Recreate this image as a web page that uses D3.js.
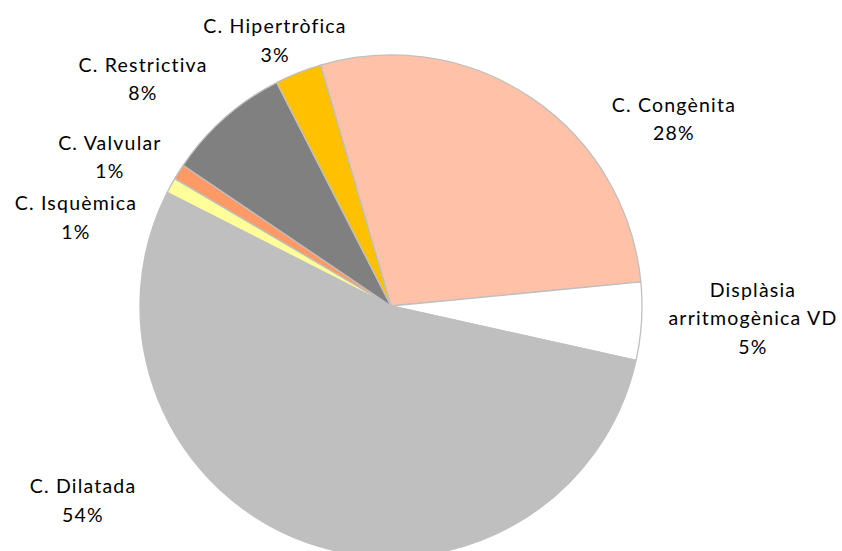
<!DOCTYPE html>
<html>
<head>
<meta charset="utf-8">
<script src="https://cdn.jsdelivr.net/npm/d3@7"></script>
<style>
  html, body { margin: 0; padding: 0; background: #ffffff; }
  svg { display: block; }
  .lbl { font-family: Lato, "Open Sans", sans-serif; font-size: 19.5px; fill: #000; letter-spacing: 1.2px; }
</style>
</head>
<body>
<svg id="chart" width="842" height="551"></svg>
<script>
// Categories of cardiomyopathy and their share of cases (%)
const categories = ["C. Congènita", "Displàsia arritmogènica VD", "C. Dilatada", "C. Isquèmica", "C. Valvular", "C. Restrictiva", "C. Hipertròfica"];
const values = [28, 5, 54, 1, 1, 8, 3];
// Label lines as printed beside each slice
const labelLines = [
  ["C. Congènita"],
  ["Displàsia", "arritmogènica VD"],
  ["C. Dilatada"],
  ["C. Isquèmica"],
  ["C. Valvular"],
  ["C. Restrictiva"],
  ["C. Hipertròfica"]
];
const colors = ["#FFC1A8", "#FFFFFF", "#BFBFBF", "#FFFF99", "#FF9966", "#808080", "#FFC000"];

// Label anchors (centre of text, first baseline), in units of the pie radius from its centre
const labelAnchor = [
  [1.127, -0.774],
  [1.442, -0.037],
  [-1.227, 0.746],
  [-1.255, -0.382],
  [-1.120, -0.622],
  [-0.988, -0.934],
  [-0.462, -1.086]
];

const width = 842, height = 551;
const cx = 391, cy = 306, radius = 251;
const lineHeight = 28.5;
const startDeg = -16.3;

const svg = d3.select("#chart");
const g = svg.append("g").attr("transform", `translate(${cx},${cy})`);

const data = categories.map((c, i) => ({ name: c, value: values[i], lines: labelLines[i], color: colors[i], anchor: labelAnchor[i] }));

const pie = d3.pie()
  .value(d => d.value)
  .sort(null)
  .startAngle(startDeg * Math.PI / 180)
  .endAngle((startDeg + 360) * Math.PI / 180);

const arc = d3.arc().innerRadius(0).outerRadius(radius);

g.selectAll("path.slice")
  .data(pie(data))
  .join("path")
  .attr("class", "slice")
  .attr("d", arc)
  .attr("fill", d => d.data.color)
  .attr("stroke", "#BFBFBF")
  .attr("stroke-width", 1.3)
  .attr("stroke-linejoin", "round");

const fmt = d3.format(".0%");
const labels = g.selectAll("text.lbl")
  .data(pie(data))
  .join("text")
  .attr("class", "lbl")
  .attr("text-anchor", "middle")
  .attr("x", d => d.data.anchor[0] * radius)
  .attr("y", d => d.data.anchor[1] * radius);

labels.each(function(d) {
  const t = d3.select(this);
  const lines = d.data.lines.concat([fmt(d.data.value / 100)]);
  lines.forEach((ln, i) => {
    t.append("tspan")
      .attr("x", d.data.anchor[0] * radius)
      .attr("dy", i === 0 ? 0 : lineHeight)
      .text(ln);
  });
});
</script>
</body>
</html>
